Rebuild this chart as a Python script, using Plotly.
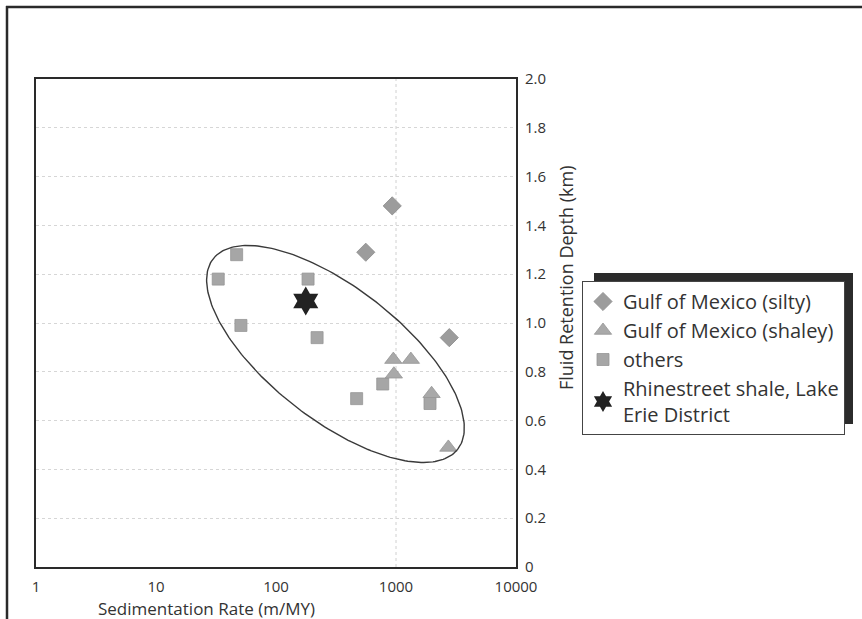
import numpy as np
import plotly.graph_objects as go

# ---------------- data ----------------
silty_x = [930, 560, 2780]
silty_y = [1.48, 1.29, 0.94]

shaley_x = [950, 1330, 960, 1980, 2730]
shaley_y = [0.85, 0.85, 0.79, 0.71, 0.49]

others_x = [47, 33, 185, 51, 220, 775, 470, 1920]
others_y = [1.28, 1.18, 1.18, 0.99, 0.94, 0.75, 0.69, 0.67]

star_x = [177]
star_y = [1.09]

x_tickvals = [1, 10, 100, 1000, 10000]
x_ticktext = ["1", "10", "100", "1000", "10000"]
y_tickvals = [0, 0.2, 0.4, 0.6, 0.8, 1.0, 1.2, 1.4, 1.6, 1.8, 2.0]
y_ticktext = ["0", "0.2", "0.4", "0.6", "0.8", "1.0", "1.2", "1.4", "1.6", "1.8", "2.0"]
x_grid = [1000]

# enclosing ellipse (centre in data units, semi-axes in screen pixels)
ell_center_x = 313
ell_center_y = 0.873
ell_a_px = 155.0
ell_b_px = 66.0
ell_angle_deg = 37.9

# ---------------- layout geometry ----------------
W, H = 862, 619
ML, MR, MT, MB = 36, 346, 79, 52
PW = W - ML - MR
PH = H - MT - MB
px_per_decade = PW / 4.0
px_per_km = PH / 2.0


def pxx(px):
    return (px - ML) / PW


def pxy(py):
    return (H - MB - py) / PH


FONT = "Open Sans"
GREY = "#a6a6a6"

fig = go.Figure()

fig.add_trace(go.Scatter(
    x=silty_x, y=silty_y, mode="markers", name="Gulf of Mexico (silty)",
    legendrank=1,
    marker=dict(symbol="diamond", size=14, color="#9c9c9c",
                line=dict(width=0.8, color="#8a8a8a"))))
fig.add_trace(go.Scatter(
    x=others_x, y=others_y, mode="markers", name="others",
    legendrank=3,
    marker=dict(symbol="square", size=12, color=GREY,
                line=dict(width=0.8, color="#959595"))))
fig.add_trace(go.Scatter(
    x=shaley_x, y=shaley_y, mode="markers", name="Gulf of Mexico (shaley)",
    legendrank=2,
    marker=dict(symbol="triangle-up", size=15, color="#a9a9a9",
                line=dict(width=0.8, color="#959595"))))

# ellipse
t = np.linspace(0, 2 * np.pi, 241)
th = np.deg2rad(ell_angle_deg)
dx = ell_a_px * np.cos(th) * np.cos(t) - ell_b_px * np.sin(th) * np.sin(t)
dy = ell_a_px * np.sin(th) * np.cos(t) + ell_b_px * np.cos(th) * np.sin(t)
ex = 10 ** (np.log10(ell_center_x) + dx / px_per_decade)
ey = ell_center_y - dy / px_per_km
fig.add_trace(go.Scatter(x=ex, y=ey, mode="lines", showlegend=False,
                         line=dict(color="#3a3a3a", width=1.4), hoverinfo="skip"))

fig.add_trace(go.Scatter(
    x=star_x, y=star_y, mode="markers",
    name="Rhinestreet shale, Lake<br>Erie District",
    legendrank=4,
    marker=dict(symbol="hexagram", size=22, color="#222222")))

shapes = []
# vertical dotted grid line
for gx in x_grid:
    shapes.append(dict(type="line", xref="x", yref="paper", x0=gx, x1=gx, y0=0, y1=1,
                       line=dict(color="#d0d0d0", width=1, dash="dot"), layer="below"))
# outer frame (top + left)
shapes.append(dict(type="line", xref="paper", yref="paper",
                   x0=pxx(6), x1=pxx(W + 5), y0=pxy(7), y1=pxy(7),
                   line=dict(color="#2a2a2a", width=2.5)))
shapes.append(dict(type="line", xref="paper", yref="paper",
                   x0=pxx(7), x1=pxx(7), y0=pxy(6), y1=pxy(H + 5),
                   line=dict(color="#2a2a2a", width=2.5)))
# legend drop shadow
shapes.append(dict(type="rect", xref="paper", yref="paper",
                   x0=pxx(594), x1=pxx(853), y0=pxy(273), y1=pxy(424),
                   fillcolor="#2b2b2b", line=dict(width=0)))

annotations = [
    dict(text="Sedimentation Rate (m/MY)", xref="paper", yref="paper",
         x=pxx(206), y=pxy(608), showarrow=False, xanchor="center", yanchor="middle",
         font=dict(family=FONT, size=17, color="#333333")),
    dict(text="Fluid Retention Depth (km)", xref="paper", yref="paper",
         x=pxx(566), y=pxy(278), showarrow=False, textangle=-90,
         xanchor="center", yanchor="middle",
         font=dict(family=FONT, size=18, color="#333333")),
]

fig.update_layout(
    width=W, height=H, autosize=False,
    margin=dict(l=ML, r=MR, t=MT, b=MB),
    paper_bgcolor="white", plot_bgcolor="white",
    showlegend=True,
    legend=dict(x=pxx(582), y=pxy(281), xanchor="left", yanchor="top",
                bgcolor="white", bordercolor="#444444", borderwidth=1,
                font=dict(family=FONT, size=20, color="#333333"),
                traceorder="normal",
                itemsizing="trace"),
    shapes=shapes,
    annotations=annotations,
    xaxis=dict(type="log", range=[0, 4], tickvals=x_tickvals, ticktext=x_ticktext,
               showgrid=False, zeroline=False, ticks="",
               showline=True, mirror=True, linecolor="#2a2a2a", linewidth=2,
               ticklabelstandoff=5,
               tickfont=dict(family=FONT, size=15, color="#333333")),
    yaxis=dict(range=[0, 2], tickvals=y_tickvals, ticktext=y_ticktext, side="right",
               showgrid=True, gridcolor="#d6d6d6", griddash="dot", gridwidth=1,
               zeroline=False, ticks="",
               showline=True, mirror=True, linecolor="#2a2a2a", linewidth=2,
               ticklabelstandoff=4,
               tickfont=dict(family=FONT, size=15, color="#333333")),
)

fig.write_html("out.html")
